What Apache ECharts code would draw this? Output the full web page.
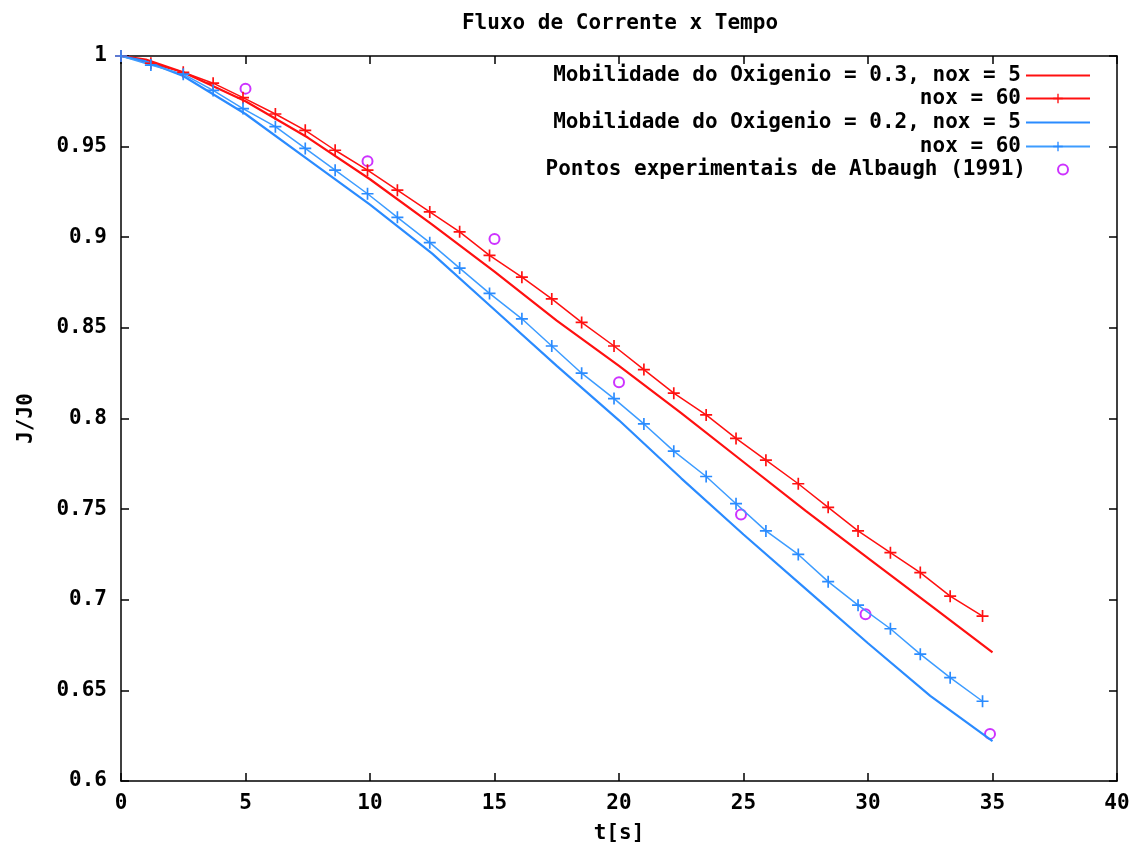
<!DOCTYPE html>
<html>
<head>
<meta charset="utf-8">
<script src="https://cdn.jsdelivr.net/npm/echarts@6/dist/echarts.min.js"></script>
<style>html,body{margin:0;padding:0;background:#fff}#c{width:1139px;height:849px}</style>
</head>
<body>
<div id="c"></div>
<script>
// ---- data ----
const titleText = 'Fluxo de Corrente x Tempo';
const xName = 't[s]';
const yName = 'J/J0';
const xTicks = [0, 5, 10, 15, 20, 25, 30, 35, 40];
const yTicks = [0.6, 0.65, 0.7, 0.75, 0.8, 0.85, 0.9, 0.95, 1];

// times of the marked (nox = 60) simulations
const tMarks = [0,1.2,2.5,3.7,4.9,6.2,7.4,8.6,9.9,11.1,12.4,13.6,14.8,16.1,17.3,18.5,19.8,21.0,22.2,23.5,24.7,25.9,27.2,28.4,29.6,30.9,32.1,33.3,34.6];
const red60 = [1.0,0.996,0.991,0.985,0.977,0.968,0.959,0.948,0.937,0.926,0.914,0.903,0.890,0.878,0.866,0.853,0.840,0.827,0.814,0.802,0.789,0.777,0.764,0.751,0.738,0.726,0.715,0.702,0.691];
const blue60 = [1.0,0.995,0.990,0.981,0.971,0.961,0.949,0.937,0.924,0.911,0.897,0.883,0.869,0.855,0.840,0.825,0.811,0.797,0.782,0.768,0.753,0.738,0.725,0.710,0.697,0.684,0.670,0.657,0.644];

// times of the unmarked (nox = 5) simulations
const tLines = [0,1,2.5,5,7.5,10,12.5,15,17.5,20,22.5,25,27.5,30,32.5,35];
const red5 = [1.0,0.998,0.991,0.975,0.955,0.932,0.907,0.881,0.854,0.829,0.803,0.776,0.749,0.723,0.697,0.671];
const blue5 = [1.0,0.997,0.989,0.968,0.943,0.918,0.891,0.860,0.829,0.799,0.767,0.736,0.706,0.676,0.647,0.622];

// experimental points (Albaugh 1991)
const tExp = [5,9.9,15,20,24.9,29.9,34.9];
const vExp = [0.982,0.942,0.899,0.820,0.747,0.692,0.626];

const legendLabels = {
  r5: 'Mobilidade do Oxigenio = 0.3, nox = 5',
  r60: 'nox = 60',
  b5: 'Mobilidade do Oxigenio = 0.2, nox = 5',
  b60: 'nox = 60',
  exp: 'Pontos experimentais de Albaugh (1991)'
};

// ---- chart ----
const FONT = 'DejaVu Sans Mono';
const FS = 21;
const RED = '#ff1010';
const BLUE = '#2a8bff';
const BLUE_L = '#3d9cff';
const PURPLE = '#c000ff';
const PLUS = 'path://M4.3,0H5.7V4.3H10V5.7H5.7V10H4.3V5.7H0V4.3H4.3Z';

const zip = (xs, ys) => xs.map((x, i) => [x, ys[i]]);

function mkLegend(name, top, extra) {
  return Object.assign({
    data: [name], right: 48, top: top, orient: 'horizontal', align: 'right',
    itemWidth: 64, itemHeight: 12, padding: 0, selectedMode: false,
    formatter: n => legendLabels[n],
    textStyle: { fontFamily: FONT, fontSize: FS, fontWeight: 'bold', color: '#000' }
  }, extra || {});
}

const axisCommon = {
  axisLine: { show: true, onZero: false, lineStyle: { color: '#000', width: 1.5 } },
  axisTick: { show: true, inside: true, length: 8, lineStyle: { color: '#000', width: 1.5 } },
  splitLine: { show: false }
};
const labelStyle = { fontFamily: FONT, fontSize: FS, fontWeight: 'bold', color: '#000' };

const option = {
  animation: false,
  backgroundColor: '#fff',
  title: {
    text: titleText, left: 615, top: 8, textAlign: 'center',
    textStyle: { fontFamily: FONT, fontSize: FS, fontWeight: 'bold', color: '#000' }
  },
  grid: { left: 121, right: 22, top: 56, bottom: 68, containLabel: false },
  legend: [
    mkLegend('r5', 65, { itemStyle: { opacity: 0 } }),
    mkLegend('r60', 88),
    mkLegend('b5', 112, { itemStyle: { opacity: 0 } }),
    mkLegend('b60', 136),
    mkLegend('exp', 159, { right: 70, itemHeight: 10 })
  ],
  xAxis: [
    Object.assign({
      type: 'value', min: xTicks[0], max: xTicks[xTicks.length - 1], interval: 5,
      name: xName, nameLocation: 'middle', nameGap: 42,
      nameTextStyle: labelStyle,
      axisLabel: Object.assign({ margin: 12 }, labelStyle)
    }, axisCommon),
    Object.assign({
      type: 'value', position: 'top', min: xTicks[0], max: xTicks[xTicks.length - 1], interval: 5,
      axisLabel: { show: false }
    }, axisCommon)
  ],
  yAxis: [
    Object.assign({
      type: 'value', min: yTicks[0], max: yTicks[yTicks.length - 1], interval: 0.05,
      name: yName, nameLocation: 'middle', nameGap: 84, nameRotate: 90,
      nameTextStyle: labelStyle,
      axisLabel: Object.assign({ margin: 14, formatter: v => String(+v.toFixed(2)) }, labelStyle)
    }, axisCommon),
    Object.assign({
      type: 'value', position: 'right', min: yTicks[0], max: yTicks[yTicks.length - 1], interval: 0.05,
      axisLabel: { show: false }
    }, axisCommon)
  ],
  series: [
    {
      name: 'r5', type: 'line', data: zip(tLines, red5), symbol: 'none',
      lineStyle: { color: RED, width: 2.2 }, itemStyle: { color: RED }
    },
    {
      name: 'r60', type: 'line', data: zip(tMarks, red60), symbol: PLUS, symbolSize: 12,
      showAllSymbol: true,
      lineStyle: { color: RED, width: 1.5 }, itemStyle: { color: RED }
    },
    {
      name: 'b5', type: 'line', data: zip(tLines, blue5), symbol: 'none',
      lineStyle: { color: BLUE, width: 2.2 }, itemStyle: { color: BLUE }
    },
    {
      name: 'b60', type: 'line', data: zip(tMarks, blue60), symbol: PLUS, symbolSize: 12,
      showAllSymbol: true,
      lineStyle: { color: BLUE_L, width: 1.5 }, itemStyle: { color: BLUE }
    },
    {
      name: 'exp', type: 'scatter', data: zip(tExp, vExp), symbol: 'emptyCircle', symbolSize: 10,
      itemStyle: { color: PURPLE, borderColor: PURPLE, borderWidth: 2.8 }
    }
  ]
};

const chart = echarts.init(document.getElementById('c'), null, { renderer: 'canvas' });
chart.setOption(option);
</script>
</body>
</html>
